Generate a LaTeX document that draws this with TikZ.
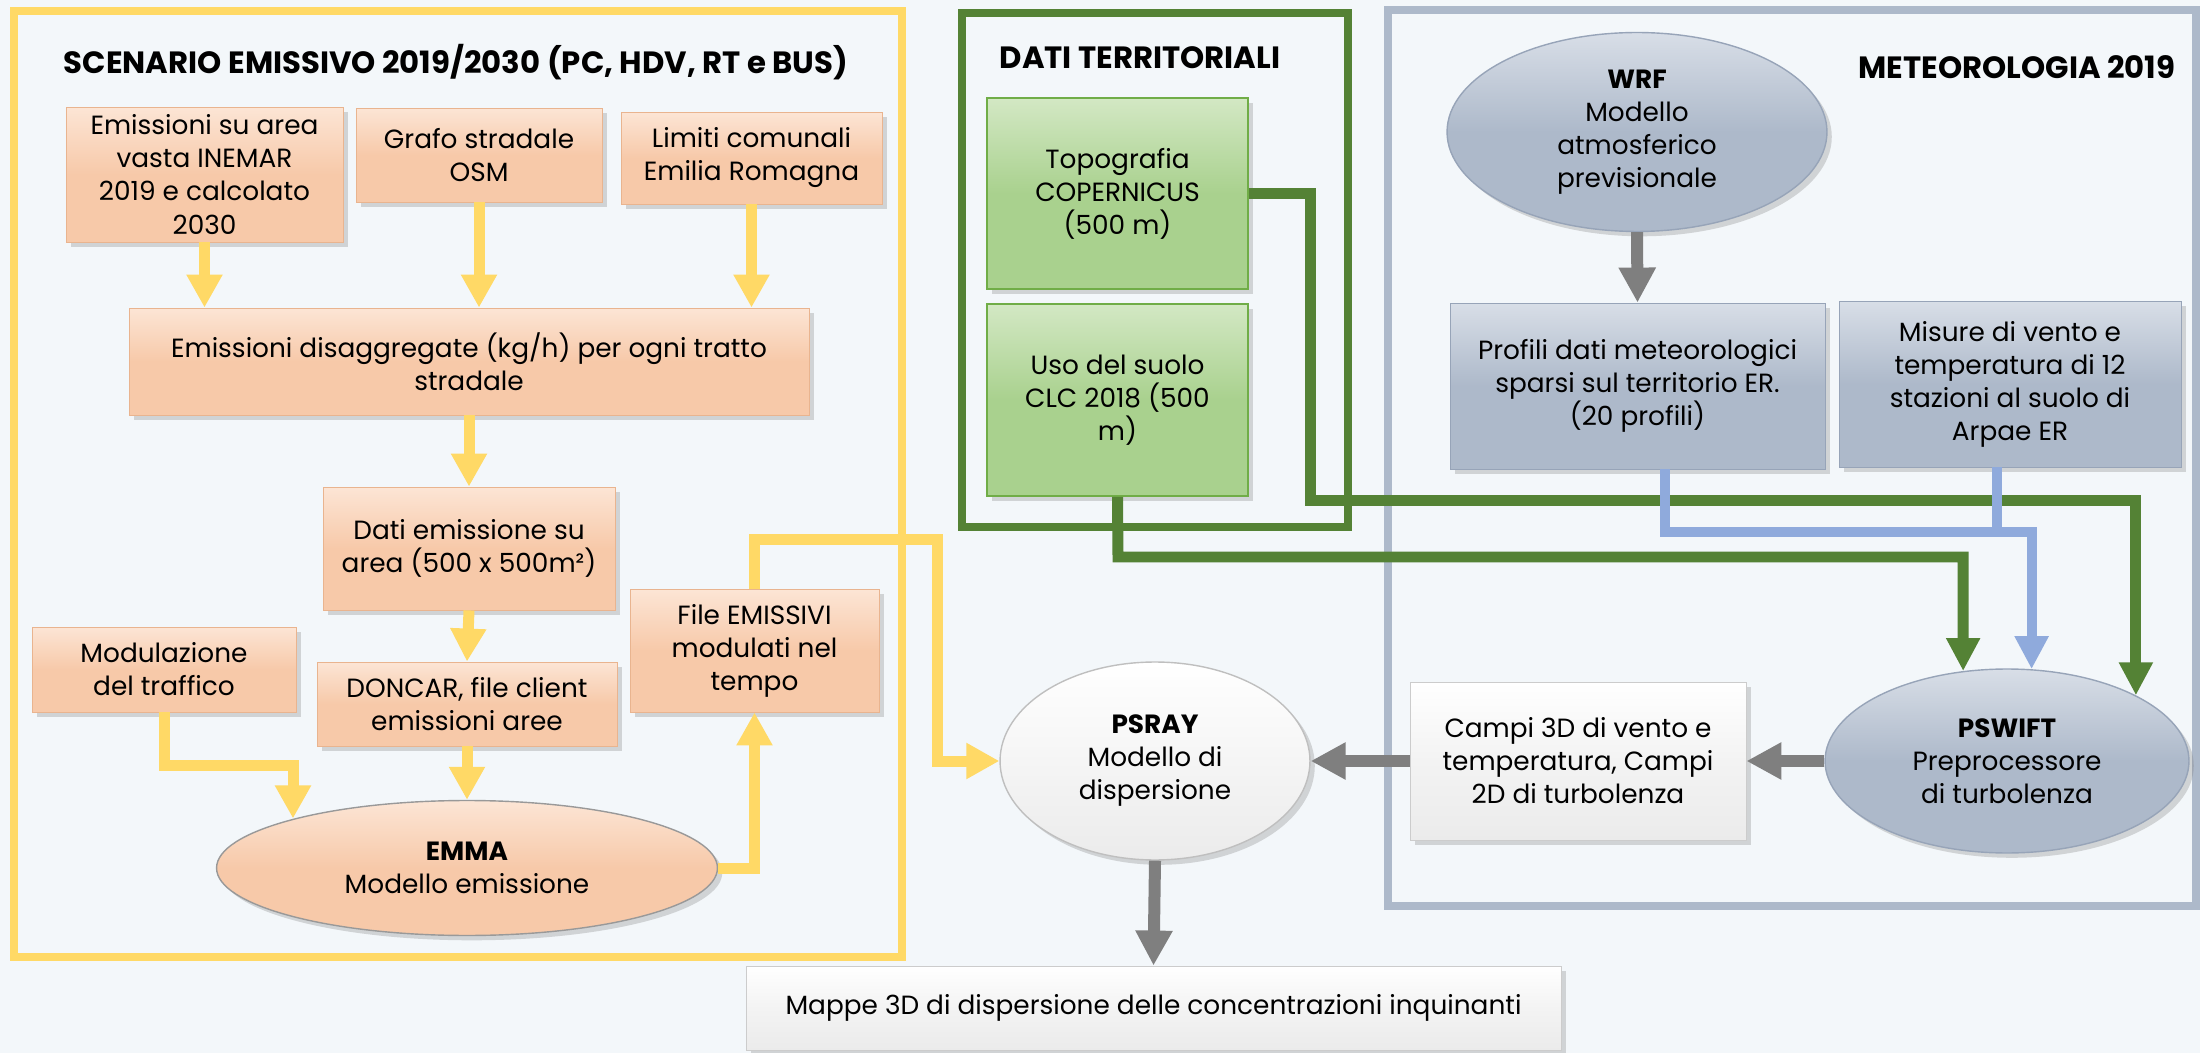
\documentclass[tikz,border=0pt]{standalone}
\usepackage{fontspec}
\setmainfont{Poppins}
\usetikzlibrary{arrows.meta,positioning,shapes.geometric,shadows,calc}

\definecolor{backcol}{HTML}{F3F7FA}
\definecolor{peach}{HTML}{F7C9A9}
\definecolor{peachlt}{HTML}{FCE5D5}
\definecolor{peachdk}{HTML}{E9B48F}
\definecolor{leaf}{HTML}{A9D18E}
\definecolor{leaflt}{HTML}{D3E8C4}
\definecolor{leafdk}{HTML}{70AD47}
\definecolor{slate}{HTML}{ADB9CA}
\definecolor{slatelt}{HTML}{D8DEE7}
\definecolor{slatedk}{HTML}{97A4B8}
\definecolor{pearl}{HTML}{EBEBEB}
\definecolor{gold}{HTML}{FFD966}
\definecolor{forest}{HTML}{548235}
\definecolor{sky}{HTML}{8FAADC}
\definecolor{ash}{HTML}{7F7F7F}

\begin{document}
\begin{tikzpicture}[
  x=0.02cm,y=-0.02cm,
  every node/.style={font=\fontsize{15}{18.8}\selectfont, align=center, inner sep=0pt},
  heading/.style={font=\fontsize{17.5}{21}\selectfont\bfseries},
  ebox/.style={rectangle, top color=peachlt, bottom color=peach, middle color=peach, draw=peachdk, line width=0.5pt, drop shadow={opacity=0.3}},
  eoval/.style={ellipse, top color=peachlt, bottom color=peach, middle color=peach, draw=ash!80, line width=0.8pt, drop shadow={opacity=0.3}},
  tbox/.style={rectangle, top color=leaflt, bottom color=leaf, middle color=leaf, draw=leafdk, line width=1pt, drop shadow={opacity=0.3}},
  mbox/.style={rectangle, top color=slatelt, bottom color=slate, middle color=slate, draw=slatedk, line width=0.5pt, drop shadow={opacity=0.3}},
  moval/.style={ellipse, top color=slatelt, bottom color=slate, middle color=slate, draw=slatedk, line width=0.8pt, drop shadow={opacity=0.3}},
  pbox/.style={rectangle, top color=white, bottom color=pearl, middle color=pearl!60!white, draw=ash!40, line width=0.5pt, drop shadow={opacity=0.3}},
  poval/.style={ellipse, top color=white, bottom color=pearl, middle color=pearl!50!white, draw=ash!50, line width=0.8pt, drop shadow={opacity=0.3}},
  frame/.style={line width=0.16cm},
  yarr/.style={-{Triangle[length=0.66cm,width=0.68cm]}, gold, line width=0.22cm},
  yline/.style={gold, line width=0.22cm},
  garr/.style={-{Triangle[length=0.66cm,width=0.64cm]}, forest, line width=0.22cm},
  barr/.style={-{Triangle[length=0.66cm,width=0.64cm]}, sky, line width=0.2cm},
  bline/.style={sky, line width=0.2cm},
  karr/.style={-{Triangle[length=0.7cm,width=0.7cm]}, ash, line width=0.24cm}
]
\fill[backcol] (0,0) rectangle (2200,1053);
\useasboundingbox (0,0) rectangle (2200,1053);

% cornici dei tre gruppi
\draw[frame, gold] (14,11) rectangle (902,957);
\draw[frame, forest] (962,13) rectangle (1348,527);
\draw[frame, slate] (1388,10) rectangle (2196,906);

% scenario emissivo
\node[heading] (scentitle) at (456,62) {SCENARIO EMISSIVO 2019/2030 (PC, HDV, RT e BUS)};
\node[ebox, minimum width=5.54cm, minimum height=2.70cm] (inemar) at (204.5,174.5) {Emissioni su area\\vasta INEMAR\\2019 e calcolato\\2030};
\node[ebox, minimum width=4.92cm, minimum height=1.88cm] (osm) at (479,155) {Grafo stradale\\OSM};
\node[ebox, minimum width=5.22cm, minimum height=1.84cm] (limiti) at (751.5,158) {Limiti comunali\\Emilia Romagna};
\node[ebox, minimum width=13.6cm, minimum height=2.14cm] (disagg) at (469,361.5) {Emissioni disaggregate (kg/h) per ogni tratto\\stradale};
\node[ebox, minimum width=5.84cm, minimum height=2.46cm] (area) at (469,548.5) {Dati emissione su\\area (500 x 500m²)};
\node[ebox, minimum width=5.28cm, minimum height=1.70cm] (traffico) at (164,669.5) {Modulazione\\del traffico};
\node[ebox, minimum width=6.0cm, minimum height=1.68cm] (doncar) at (467,704) {DONCAR, file client\\emissioni aree};
\node[ebox, minimum width=4.98cm, minimum height=2.46cm] (filemis) at (754.5,650.5) {File EMISSIVI\\modulati nel\\tempo};
\node[eoval, minimum width=10.02cm, minimum height=2.70cm] (emma) at (467,868) {\textbf{EMMA}\\Modello emissione};

% dati territoriali
\node[heading] (datititle) at (1140,58) {DATI TERRITORIALI};
\node[tbox, minimum width=5.22cm, minimum height=3.82cm] (topo) at (1117.5,193.5) {Topografia\\COPERNICUS\\(500 m)};
\node[tbox, minimum width=5.22cm, minimum height=3.84cm] (uso) at (1117.5,400) {Uso del suolo\\CLC 2018 (500\\m)};

% meteorologia
\node[heading] (meteotitle) at (2017,67) {METEOROLOGIA 2019};
\node[moval, minimum width=7.6cm, minimum height=3.98cm] (wrf) at (1637,132) {\textbf{WRF}\\Modello\\atmosferico\\previsionale};
\node[mbox, minimum width=7.5cm, minimum height=3.32cm] (profili) at (1637.5,386) {Profili dati meteorologici\\sparsi sul territorio ER.\\(20 profili)};
\node[mbox, minimum width=6.84cm, minimum height=3.32cm] (misure) at (2010,384) {Misure di vento e\\temperatura di 12\\stazioni al suolo di\\Arpae ER};
\node[moval, minimum width=7.28cm, minimum height=3.68cm] (pswift) at (2007,761) {\textbf{PSWIFT}\\Preprocessore\\di turbolenza};
\node[pbox, minimum width=6.72cm, minimum height=3.16cm] (campi) at (1578,761) {Campi 3D di vento e\\temperatura, Campi\\2D di turbolenza};

% dispersione
\node[poval, minimum width=6.2cm, minimum height=3.96cm] (psray) at (1155,761) {\textbf{PSRAY}\\Modello di\\dispersione};
\node[pbox, minimum width=16.3cm, minimum height=1.68cm] (mappe) at (1153.5,1008) {Mappe 3D di dispersione delle concentrazioni inquinanti};

% frecce gialle
\coordinate (t1) at (293,765);
\coordinate (y1) at (937,540);
\draw[yarr] (inemar.south) -- (inemar.south |- disagg.north);
\draw[yarr] (osm.south) -- (osm.south |- disagg.north);
\draw[yarr] (limiti.south) -- (limiti.south |- disagg.north);
\draw[yarr] (disagg.south) -- (area.north);
\draw[yarr] (area.south) -- (doncar.north);
\draw[yarr] (doncar.south) -- (emma.north);
\draw[yarr] (traffico.south) |- (t1) -- (t1 |- emma.164);
\draw[yarr] (emma.east) -| (filemis.south);
\draw[yarr] (filemis.north) |- (y1) |- (psray.west);

% frecce verdi
\coordinate (g1) at (1310,501);
\coordinate (g2) at (1118,557);
\draw[garr] (topo.east) -| (g1) -| (pswift.27);
\draw[garr] (uso.south) -- (g2) -| (pswift.116);

% frecce blu
\coordinate (b1) at (1665,532);
\coordinate (b2) at (1997,532);
\draw[barr] (b1 |- profili.south) -- (b1) -| (pswift.75);
\draw[bline] (b2 |- misure.south) -- ([yshift=-0.1cm]b2);

% frecce grigie
\draw[karr] (wrf.south) -- (profili.north);
\draw[karr] (pswift.west) -- (campi.east);
\draw[karr] (campi.west) -- (psray.east);
\draw[karr] (psray.south) -- (mappe.north);
\end{tikzpicture}
\end{document}
